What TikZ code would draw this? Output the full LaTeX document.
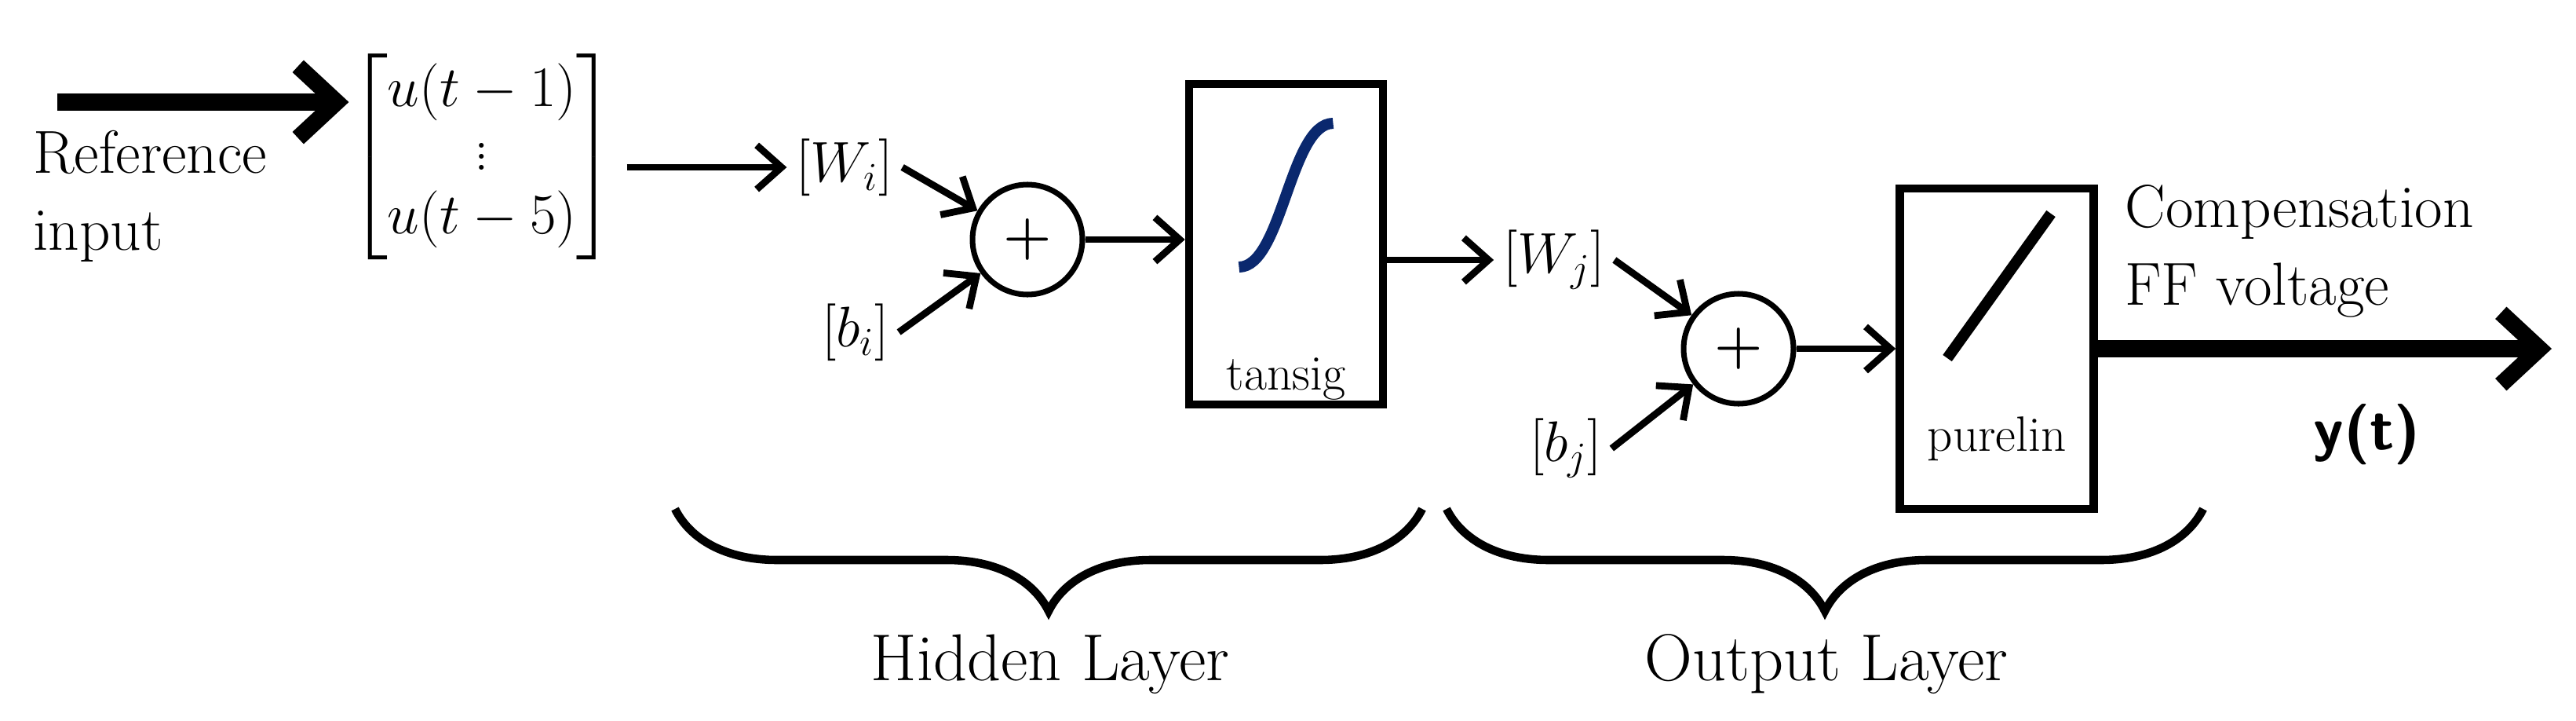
\documentclass[tikz,border=0pt]{standalone}
\usepackage{amsmath}
\usetikzlibrary{arrows.meta,decorations.pathreplacing}
\definecolor{curvenavy}{RGB}{10,40,110}
\tikzset{
    big/.style={font=\fontsize{22}{28}\selectfont},
    block/.style={draw, line width=3pt, minimum width=2.47cm, minimum height=4.08cm, inner sep=0pt},
    sumnode/.style={draw, circle, line width=2pt, minimum size=1.4cm, inner sep=0pt, font=\fontsize{20}{20}\selectfont\bfseries},
    conn/.style={line width=2.5pt, -{Straight Barb[length=9pt,width=16pt]}},
    bigconn/.style={line width=6pt, -{Straight Barb[length=14pt,width=26pt]}},
    layerbrace/.style={line width=3pt, decorate, decoration={brace, mirror, amplitude=1.3cm}},
}
\begin{document}
\begin{tikzpicture}
    \useasboundingbox (0,0) rectangle (32.82,9.17);

    % Input
    \coordinate (start) at (0.73,7.87);
    \node[big, anchor=west, align=left] (ref) at (0.3,6.67) {Reference\\input};
    \node[font=\fontsize{21}{23}\selectfont, inner sep=0pt] (inp) at (6.14,7.17) {$\begin{bmatrix} u(t-1)\\ \vdots\\ u(t-5) \end{bmatrix}$};
    \draw[bigconn] (start) -- (start -| inp.west);

    % Hidden layer
    \node[big] (Wi) at (10.76,7.04) {$[W_i]$};
    \node[big] (bi) at (10.90,4.94) {$[b_i]$};
    \node[sumnode] (sumi) at (13.09,6.12) {+};
    \node[block] (tansig) at (16.385,6.06) {};
    \node[font=\fontsize{18}{18}\selectfont, anchor=base] (tansiglabel) at ([yshift=-1.85cm]tansig.center) {tansig};
    \draw[curvenavy, line width=4pt] ([shift={(-0.6,-0.29)}]tansig.center)
        .. controls ([shift={(-0.05,-0.29)}]tansig.center) and ([shift={(0.05,1.54)}]tansig.center)
        .. ([shift={(0.6,1.54)}]tansig.center);
    \draw[conn] ([xshift=0.15cm]inp.east |- Wi) -- (Wi);
    \draw[conn] (Wi.east) -- (sumi);
    \draw[conn] (bi.east) -- (sumi);
    \draw[conn] (sumi) -- (sumi -| tansig.west);

    % Output layer
    \node[big] (Wj) at (19.80,5.86) {$[W_j]$};
    \node[big] (bj) at (19.95,3.46) {$[b_j]$};
    \node[sumnode] (sumj) at (22.15,4.73) {+};
    \node[block] (purelin) at (25.44,4.73) {};
    \node[font=\fontsize{18}{18}\selectfont, anchor=base] (purelinlabel) at ([yshift=-1.3cm]purelin.center) {purelin};
    \draw[line width=4pt] ([shift={(-0.63,-0.12)}]purelin.center) -- ([shift={(0.69,1.72)}]purelin.center);
    \draw[conn] (tansig.east |- Wj) -- (Wj);
    \draw[conn] (Wj.east) -- (sumj);
    \draw[conn] (bj.east) -- (sumj);
    \draw[conn] (sumj) -- (purelin);

    % Output
    \coordinate (end) at (32.51,4.73);
    \draw[bigconn] (purelin) -- (end);
    \node[big, anchor=west, align=left] (comp) at (26.95,5.97) {Compensation\\FF voltage};
    \node[font=\fontsize{22}{22}\selectfont\sffamily\bfseries] (yt) at (30.16,3.64) {y(t)};

    % Layer braces
    \draw[layerbrace] (8.6,2.69) -- (18.12,2.69);
    \draw[layerbrace] (18.43,2.69) -- (28.07,2.69);
    \node[font=\fontsize{24}{24}\selectfont] (hidden) at (13.38,0.71) {Hidden Layer};
    \node[font=\fontsize{24}{24}\selectfont] (output) at (23.27,0.71) {Output Layer};
\end{tikzpicture}
\end{document}
